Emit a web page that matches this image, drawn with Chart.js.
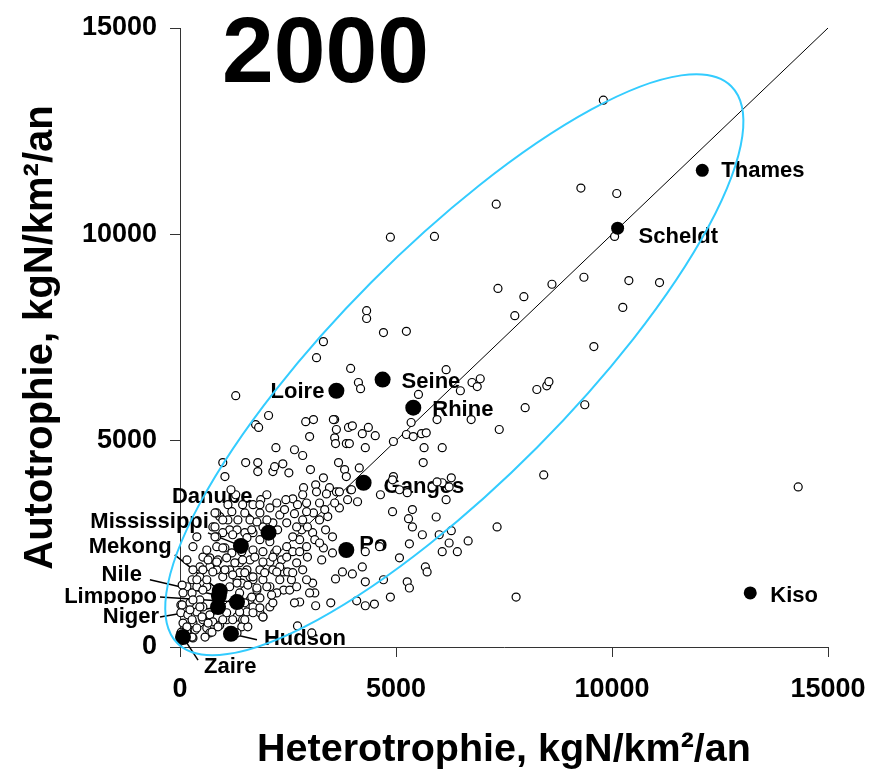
<!DOCTYPE html>
<html lang="fr">
<head>
<meta charset="utf-8">
<title>Autotrophie vs Hétérotrophie 2000</title>
<script src="https://cdn.jsdelivr.net/npm/chart.js@4.4.1/dist/chart.umd.min.js"></script>
<style>
  body { margin: 0; background: #fff; }
  #wrap { width: 877px; height: 770px; }
</style>
</head>
<body>
<div id="wrap"><canvas id="chart" width="877" height="770"></canvas></div>
<script>
// Données (kgN/km²/an)
const yearLabel = '2000';
const xTicks = [0, 5000, 10000, 15000];
const yTicks = [0, 5000, 10000, 15000];

// Grands fleuves (points noirs)
const riverNames = ['Thames', 'Scheldt', 'Seine', 'Loire', 'Rhine', 'Ganges', 'Po', 'Kiso',
  'Hudson', 'Zaire', 'Danube', 'Mississippi', 'Mekong', 'Nile', 'Limpopo', 'Niger'];
const riverHetero = [12090, 10130, 4690, 3620, 5400, 4250, 3850, 13200,
  1180, 70, 2050, 1410, 920, 900, 1320, 880];
const riverAuto = [11550, 10150, 6480, 6210, 5800, 3980, 2350, 1310,
  320, 240, 2770, 2450, 1360, 1240, 1090, 970];

// Autres bassins (petits cercles) : [hétérotrophie, autotrophie]
const otherBasins = [
  [9800,13250],[9280,11120],[10110,10990],[7320,10730],[5890,9950],[4870,9930],[10060,9950],
  [7360,8690],[7960,8490],[8610,8790],[9350,8960],[10390,8880],[11100,8830],[10250,8230],[7750,8030],
  [9580,7280],[8490,6330],[8260,6240],[7990,5800],[9370,5870],[7390,5270],[8420,4170],[14310,3880],
  [7780,1210],[7340,2910],[6070,4830],[6280,4100],[6000,2720],[6280,2820],[6670,2570],[6070,2310],[6420,2310],
  [4320,8150],[4320,7960],[4710,7620],[5240,7650],[3950,6750],[4130,6410],[4180,6260],[6160,6720],
  [6490,6210],[5520,6120],[6760,6410],[6950,6500],[6880,6310],[8540,6430],[5950,5510],[6740,5510],
  [5350,5440],[5240,5150],[5400,5100],[5590,5170],[5700,5190],[4940,4980],[5650,4830],[5630,4470],
  [3580,5510],[3620,5270],[3900,5320],[3990,5360],[4360,5320],[4220,5170],[4520,5120],[3580,5070],
  [3600,4930],[3850,4930],[3920,4930],[4290,4830],[3670,4470],[3810,4300],[4150,4340],[4940,4130],
  [6070,3980],[5840,3880],[3620,3760],[3950,3810],[4640,3690],[3320,7400],[3160,7010],[1290,6090],
  [2050,5610],[1750,5390],[1820,5320],[2910,5460],[3090,5510],[3550,5510],[3000,5100],[2220,4830],
  [2650,4780],[2840,4640],
  [990,4470],[1520,4470],[1800,4470],[1800,4250],[2150,4250],[2190,4370],[2380,4440],[2520,4220],
  [3020,4300],[3320,4100],[3140,3930],[2860,3860],[2840,3690],[2610,3590],[2450,3570],[1870,3570],
  [2010,3690],[1290,3690],[1180,3810],[3460,3860],[3390,3710],[3160,3760],[3690,3370],[3580,3490],
  [3690,3760],[3880,3570],[3970,3810],[4110,3520],[3850,4130],[4920,3280],[5290,3110],[5610,2720],
  [5310,2500],[5080,2160],[4620,2430],[4290,2310],[4220,1940],[4710,1630],[5260,1580],[5310,1430],
  [5680,1940],[5720,1820],[4870,1210],[4500,1040],[4290,1000],[4090,1120],[3760,1820],[3990,1770],
  [3600,1650],[4290,1580],[3490,1070],[3140,1000],[2720,510],[3050,340],[2080,970],[1920,730],
  [3120,1310],[2770,1090],[2650,1070],[2400,1380],[2540,1380],[2400,1820],[3070,1550],[2930,1630],
  [2700,2040],[3280,2110],[3530,2280],[3320,2400],[3070,2770],[3530,2670],[3370,2840],[3230,3080],
  [3090,3250],[2930,3280],[3420,3160],[3350,3330],[2820,2840],[2770,2600],[2610,2670],[2470,3010],
  [2310,3200],[2420,3330],[2650,3230],[2150,3010],[2260,2840],[2470,2430],[2610,2310],[2190,2280],
  [2350,2110],[2080,2060],[2150,1870],[1850,1870],[1920,1630],[1690,1630],[1780,1380],[1620,1140],
  [1380,1310],[1320,1630],[1550,1870],[1380,2040],[1620,2110],[1150,1870],[990,1700],[850,1870],
  [690,1940],[880,2110],[690,2160],[1200,2280],[1430,2310],[1690,2350],[1920,2310],[1850,2600],
  [2080,2550],[1690,2770],[1500,2770],[1920,2910],[2010,3080],[1850,3250],[1620,3080],[1500,3250],
  [1690,3450],[1850,3450],[1450,3450],[1340,3080],[1150,2840],[990,2770],[850,2670],[850,2430],
  [1040,2400],[530,2180],[620,2350],[460,1940],[300,1870],[460,1700],[280,1630],[160,1460],
  [50,1500],[70,1310],[280,1310],[390,1460],[620,1460],[460,1140],[230,1070],[20,1020],
  [20,830],[180,780],[390,850],[530,970],[690,780],[530,660],[300,580],[70,580],
  [160,360],[350,410],[620,460],[760,610],[920,530],[1080,660],[1320,730],[1450,660],
  [1080,830],[1550,850],[1690,970],[1850,830],[1430,490],[1570,490],[1320,340],[20,340],
  [20,170],[300,220],[690,340],[1380,1800],[1620,1700],[1150,1460],[1430,1550],[2080,1460],
  [2240,1310],[2150,1070],[2310,1630],[2580,1630],[2490,1820],[2240,2350],[2470,2180],[2770,2310],
  [2930,2430],[2950,2180],[2840,1870],[2610,1800],[2700,1460],[3000,1310],[2310,1940],[2840,3080],
  [2700,2910],[2950,2910],[3120,2600],[3230,2520],[2930,3490],[3230,3490],[2720,3450],[2240,3490],
  [2080,3370],[1110,3450],[1110,3080],[1320,2840],[920,3160],[760,2910],[1040,4130],[850,3250],
  [5930,3150],[5380,3330],[5080,3810],[5260,3740],[4920,4050],[5950,4000],[6230,3880],[6160,3570],
  [5380,2910],[6230,2520],[300,2430],[160,2110],[390,2670],
  [810,3250],[990,3080],[1200,3280],[810,2910],[810,2670],[990,2400],[1220,2720],[1550,2650],
  [1660,2840],[1780,3030],[650,2110],[850,2060],[1080,2160],[1270,2040],[1450,2110],[1730,2180],
  [1920,2060],[2150,2180],[530,1870],[760,1820],[1040,1870],[1220,1750],[1500,1800],[1690,1700],
  [1960,1800],[2240,1820],[390,1630],[620,1630],[1320,1550],[1570,1500],[1780,1430],[2010,1460],
  [2120,1260],[1850,1190],[1660,1210],[530,1380],[300,1140],[460,970],[230,900],[50,1020],
  [280,660],[510,730],[650,580],[390,460],[160,490],[740,360],[880,490],[1220,660],
  [1500,660],[1690,830],[1920,730],[1850,950],[1380,850],[1500,1070],[990,660],[580,240],
  [280,240],[30,360]
];

// Droite 1:1
const diagHetero = [0, 15000];
const diagAuto = [0, 15000];

// Ellipse : centre, extrémité du grand axe, extrémité du petit axe
const ellipseCenter = [6350, 6840];
const ellipseMajorTip = [12760, 13590];
const ellipseMinorTip = [8260, 4830];

// Style des étiquettes (décalages en pixels depuis le point)
const riverRadius = [6.5, 6.5, 8, 8, 8, 8, 8, 6.5, 8, 8, 8, 8, 8, 8, 8, 8];
const labelStyle = {
  Thames: { dx: 19, dy: 1, align: 'left' },
  Scheldt: { dx: 21, dy: 9, align: 'left' },
  Seine: { dx: 19, dy: 2, align: 'left' },
  Loire: { dx: -12, dy: 1, align: 'right' },
  Rhine: { dx: 19, dy: 2, align: 'left' },
  Ganges: { dx: 20, dy: 4, align: 'left' },
  Po: { dx: 13, dy: -5, align: 'left' },
  Kiso: { dx: 20, dy: 3, align: 'left' },
  Hudson: { dx: 33, dy: 5, align: 'left', lx: 26, ly: 6 },
  Zaire: { dx: 21, dy: 30, align: 'left', lx: 15, ly: 23 },
  Danube: { dx: -16, dy: -36, align: 'right', lx: -29, ly: -28 },
  Mississippi: { dx: -32, dy: -24, align: 'right', lx: -33, ly: -13 },
  Mekong: { dx: -48, dy: -44, align: 'right', lx: -45, ly: -36 },
  Nile: { dx: -77, dy: -21, align: 'right', lx: -69, ly: -16 },
  Limpopo: { dx: -80, dy: -5, align: 'right', lx: -77, ly: -5 },
  Niger: { dx: -59, dy: 10, align: 'right', lx: -58, ly: 10, bg: true }
};

const fontFamily = '"Liberation Sans", Arial, Helvetica, sans-serif';

// Étiquettes des fleuves et traits de rappel
const riverLabels = {
  id: 'riverLabels',
  beforeDatasetsDraw(chart) {
    const ctx = chart.ctx;
    const meta = chart.getDatasetMeta(1);
    ctx.save();
    ctx.font = 'bold 22px ' + fontFamily;
    ctx.textBaseline = 'middle';
    riverNames.forEach((name, i) => {
      const pt = meta.data[i];
      const st = labelStyle[name];
      const tx = pt.x + st.dx;
      const ty = pt.y + st.dy;
      if (st.bg) {
        const w = ctx.measureText(name).width;
        ctx.fillStyle = '#fff';
        ctx.fillRect(tx - w - 2, ty - 13, w + 4, 28);
      }
      if (st.lx !== undefined) {
        ctx.strokeStyle = '#000';
        ctx.lineWidth = 1.5;
        ctx.beginPath();
        ctx.moveTo(pt.x + st.lx, pt.y + st.ly);
        ctx.lineTo(pt.x, pt.y);
        ctx.stroke();
      }
      ctx.fillStyle = '#000';
      ctx.textAlign = st.align;
      ctx.fillText(name, tx, ty);
    });
    ctx.restore();
  }
};

// Ellipse bleue et année
const overlay = {
  id: 'overlay',
  afterDatasetsDraw(chart) {
    const ctx = chart.ctx;
    const xs = chart.scales.x;
    const ys = chart.scales.y;
    const cx = xs.getPixelForValue(ellipseCenter[0]);
    const cy = ys.getPixelForValue(ellipseCenter[1]);
    const mx = xs.getPixelForValue(ellipseMajorTip[0]);
    const my = ys.getPixelForValue(ellipseMajorTip[1]);
    const nx = xs.getPixelForValue(ellipseMinorTip[0]);
    const ny = ys.getPixelForValue(ellipseMinorTip[1]);
    const a = Math.hypot(mx - cx, my - cy);
    const b = Math.hypot(nx - cx, ny - cy);
    const rot = Math.atan2(my - cy, mx - cx);
    ctx.save();
    ctx.strokeStyle = '#33ccff';
    ctx.lineWidth = 2;
    ctx.beginPath();
    ctx.ellipse(cx, cy, a, b, rot, 0, Math.PI * 2);
    ctx.stroke();

    ctx.fillStyle = '#000';
    ctx.font = 'bold 93px ' + fontFamily;
    ctx.textAlign = 'left';
    ctx.textBaseline = 'alphabetic';
    ctx.fillText(yearLabel, 222, 82);
    ctx.restore();
  }
};

const tickFont = { family: fontFamily, size: 27, weight: 'bold' };
const plainNumber = value => String(value);

new Chart(document.getElementById('chart'), {
  type: 'scatter',
  data: {
    datasets: [
      {
        label: 'Bassins',
        data: otherBasins.map(p => ({ x: p[0], y: p[1] })),
        pointRadius: 4,
        pointBorderWidth: 1.2,
        borderColor: '#000',
        backgroundColor: '#fff',
        order: 1,
        clip: false
      },
      {
        label: 'Fleuves',
        data: riverNames.map((n, i) => ({ x: riverHetero[i], y: riverAuto[i] })),
        pointRadius: riverRadius,
        pointBorderWidth: 0,
        borderColor: '#000',
        backgroundColor: '#000',
        order: 0,
        clip: false
      },
      {
        type: 'line',
        label: '1:1',
        data: diagHetero.map((x, i) => ({ x: x, y: diagAuto[i] })),
        borderColor: '#000',
        borderWidth: 1,
        pointRadius: 0,
        order: 2
      }
    ]
  },
  options: {
    responsive: false,
    animation: false,
    devicePixelRatio: 1,
    layout: { padding: { top: 28, right: 49, left: 0, bottom: 0 } },
    plugins: {
      legend: { display: false },
      tooltip: { enabled: false }
    },
    scales: {
      x: {
        type: 'linear',
        min: 0,
        max: 15000,
        afterBuildTicks: scale => { scale.ticks = xTicks.map(v => ({ value: v })); },
        afterFit: scale => {
          scale.height = 123;
          scale.paddingLeft = 0;
          scale.paddingRight = 0;
        },
        ticks: { color: '#000', font: tickFont, padding: 16, maxRotation: 0, callback: plainNumber },
        grid: { drawOnChartArea: false, drawTicks: true, tickLength: 10, color: '#333' },
        border: { color: '#333', width: 1 },
        title: {
          display: true, text: 'Heterotrophie, kgN/km²/an', color: '#000',
          font: { family: fontFamily, size: 39.5, weight: 'bold', lineHeight: 1 },
          padding: { top: 0, bottom: 0 }
        }
      },
      y: {
        type: 'linear',
        min: 0,
        max: 15000,
        afterBuildTicks: scale => { scale.ticks = yTicks.map(v => ({ value: v })); },
        afterFit: scale => {
          scale.width = 180;
          scale.paddingTop = 0;
          scale.paddingBottom = 0;
        },
        ticks: { color: '#000', font: tickFont, padding: 13, callback: plainNumber },
        grid: { drawOnChartArea: false, drawTicks: true, tickLength: 10, color: '#333' },
        border: { color: '#333', width: 1 },
        title: {
          display: true, text: 'Autotrophie, kgN/km²/an', color: '#000',
          font: { family: fontFamily, size: 40, weight: 'bold', lineHeight: 1 },
          padding: { top: 21, bottom: 0 }
        }
      }
    }
  },
  plugins: [riverLabels, overlay]
});
</script>
</body>
</html>
